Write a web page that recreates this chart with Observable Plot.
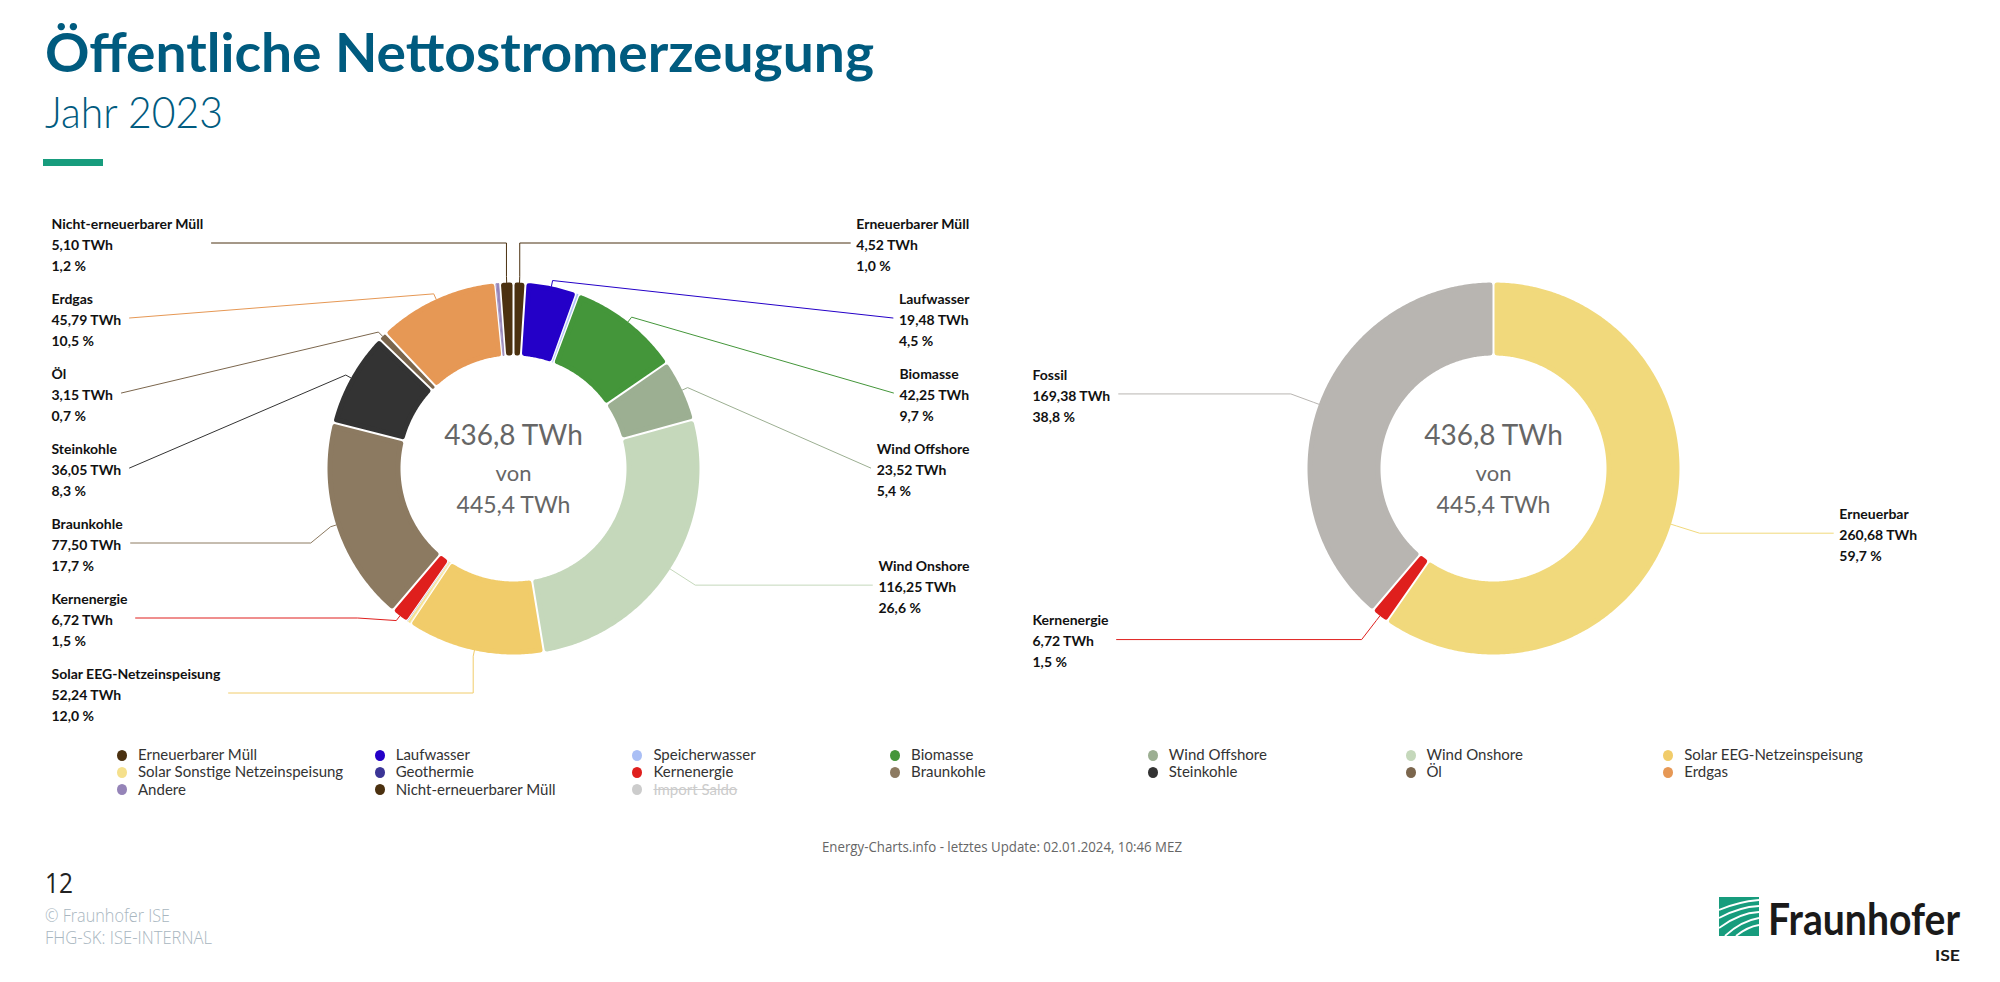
<!DOCTYPE html>
<html><head><meta charset="utf-8">
<script src="https://cdn.jsdelivr.net/npm/d3@7"></script>
<script src="https://cdn.jsdelivr.net/npm/@observablehq/plot@0.6"></script>
<style>
html,body{margin:0;padding:0;background:#fff;}
#page{position:relative;width:2000px;height:982px;overflow:hidden;}
.t{position:absolute;white-space:nowrap;line-height:1;transform-origin:left top;}
#chart{position:absolute;left:0;top:190px;}
.sym{position:absolute;width:10px;height:11px;border-radius:50%;}
</style></head>
<body><div id="page"></div>
<script>
// ---------------- data ----------------
const sources = ["Erneuerbarer Müll","Laufwasser","Speicherwasser","Biomasse","Wind Offshore","Wind Onshore","Solar EEG-Netzeinspeisung","Solar Sonstige Netzeinspeisung","Geothermie","Kernenergie","Braunkohle","Steinkohle","Öl","Erdgas","Andere","Nicht-erneuerbarer Müll"];
const sourceTWh = [4.52,19.48,0.95,42.25,23.52,116.25,52.24,1.30,0.17,6.72,77.50,36.05,3.15,45.79,1.79,5.10];
const groups = ["Erneuerbar","Kernenergie","Fossil"];
const groupTWh = [260.68,6.72,169.38];
const totalAllTWh = 445.4;
const legendExtra = ["Import Saldo"];
// ---------------- styles ----------------
const sourceColors = ["#4b3110","#2400c8","#aabff5","#44963a","#9caf92","#c5d8bb","#f1cc6a","#f5e08c","#3b3596","#df1f1d","#8c7a61","#333333","#7b664d","#e69855","#9584b8","#4b3110"];
const groupColors = ["#f1d97c","#df1f1d","#b8b5b1"];
const extraColors = ["#cccccc"];

const page = document.getElementById("page");
const fmt = (v, d) => v.toFixed(d).replace(".", ",");

// ---------------- layout constants ----------------
const layoutL = {cx: 513, cy: 468, ro: 186, ri: 113, labelLeft: 51, labelRight: 969};
const layoutR = {cx: 1493, cy: 468, ro: 186, ri: 113, labelLeft: 1032, labelRight: 1917};
const labelDist = 30, breakDist = 6, boxH = 75, boxTop = 205, boxBottom = 730;
const LF = {family: "Lato, 'Open Sans', sans-serif", size: 14, weight: 700, lh: 1.5};
const ctx = document.createElement("canvas").getContext("2d");
ctx.font = `${LF.weight} ${LF.size}px Lato`;

function distribute(items) {
  items.sort((a, b) => a.natural - b.natural);
  let gs = items.map(it => ({items: [it]}));
  const place = g => {
    const n = g.items.length;
    const mean = d3.mean(g.items, d => d.natural);
    g.top = Math.max(boxTop, Math.min(boxBottom - n * boxH, mean - n * boxH / 2));
  };
  let changed = true;
  while (changed) {
    changed = false;
    gs.forEach(place);
    for (let i = 1; i < gs.length; i++) {
      if (gs[i].top < gs[i - 1].top + gs[i - 1].items.length * boxH - 0.01) {
        gs[i - 1].items = gs[i - 1].items.concat(gs[i].items);
        gs.splice(i, 1);
        changed = true; break;
      }
    }
  }
  gs.forEach(g => g.items.forEach((it, j) => it.y = g.top + (j + 0.5) * boxH));
}

const slicePts = [], connPts = [], labels = [], centers = [];
function donut(names, values, colors, L, key) {
  const total = d3.sum(values);
  const arcs = d3.pie().sort(null).value(d => d)(values);
  const lab = [];
  arcs.forEach((a, i) => {
    const a0 = a.startAngle, a1 = a.endAngle, id = key + i;
    const w = (a1 - a0) * L.ri;
    const g = Math.min(1, w / 4);
    const k = Math.max(0, Math.min(2.5, (w - 2 * g) / 2 - 0.3));
    const rO = L.ro - k, rI = L.ri + k;
    let s0 = a0 + (g + k) / rO, e0 = a1 - (g + k) / rO;
    let s1 = a0 + (g + k) / rI, e1 = a1 - (g + k) / rI;
    const m = (a0 + a1) / 2;
    if (e0 < s0) s0 = e0 = m;
    if (e1 < s1) s1 = e1 = m;
    const n = Math.max(2, Math.ceil((e0 - s0) / 0.01));
    for (let j = 0; j <= n; j++) { const t = s0 + (e0 - s0) * j / n; slicePts.push({id, x: L.cx + rO * Math.sin(t), y: L.cy - rO * Math.cos(t), c: colors[i], sw: 2 * k}); }
    for (let j = n; j >= 0; j--) { const t = s1 + (e1 - s1) * j / n; slicePts.push({id, x: L.cx + rI * Math.sin(t), y: L.cy - rI * Math.cos(t), c: colors[i], sw: 2 * k}); }
    const pct = values[i] / total * 100;
    if (pct >= 0.5) {
      const lines = [names[i], fmt(values[i], 2) + " TWh", fmt(pct, 1) + " %"];
      const bw = Math.max(...lines.map(s => ctx.measureText(s).width));
      lab.push({id, m, color: colors[i], text: lines.join("\n"), bw,
        side: Math.sin(m) < 0 ? "left" : "right",
        natural: L.cy - (L.ro + labelDist) * Math.cos(m),
        touch: [L.cx + L.ro * Math.sin(m), L.cy - L.ro * Math.cos(m)],
        brk: [L.cx + (L.ro + breakDist) * Math.sin(m), L.cy - (L.ro + breakDist) * Math.cos(m)]});
    }
  });
  ["left", "right"].forEach(side => distribute(lab.filter(d => d.side === side)));
  const R = L.ro + labelDist;
  lab.forEach(d => {
    const left = d.side === "left";
    const lx = left ? L.labelLeft : L.labelRight - d.bw;
    labels.push({x: lx, y: d.y, text: d.text});
    const px = left ? lx + d.bw + 8 : lx - 6;
    const pts = [[px, d.y]];
    if (Math.abs(d.y - d.natural) < 30) {
      const dy = d.y - L.cy;
      const kx = Math.abs(dy) < R ? L.cx + (left ? -1 : 1) * Math.sqrt(R * R - dy * dy) : d.brk[0];
      pts.push([kx, d.y]);
    }
    pts.push(d.brk, d.touch);
    pts.forEach(p => connPts.push({id: d.id, x: p[0], y: p[1], c: d.color}));
  });
  centers.push({x: L.cx, y: L.cy - 32, text: fmt(total, 1) + " TWh", s: 28});
  centers.push({x: L.cx, y: L.cy + 5, text: "von", s: 22});
  centers.push({x: L.cx, y: L.cy + 37, text: fmt(totalAllTWh, 1) + " TWh", s: 23});
}
donut(sources, sourceTWh, sourceColors, layoutL, "s");
donut(groups, groupTWh, groupColors, layoutR, "g");

const chart = Plot.plot({
  width: 2000, height: 560, margin: 0,
  x: {domain: [0, 2000], range: [0, 2000], axis: null},
  y: {domain: [190, 750], range: [0, 560], axis: null},
  color: {type: "identity"},
  style: {background: "transparent"},
  marks: [
    Plot.line(slicePts, {x: "x", y: "y", z: "id", fill: "c", stroke: "c", strokeWidth: "sw", curve: "linear-closed", strokeLinejoin: "round"}),
    Plot.line(connPts, {x: "x", y: "y", z: "id", stroke: "c", strokeWidth: 1, curve: "linear", strokeLinejoin: "miter"}),
    Plot.text(labels, {x: "x", y: "y", text: "text", textAnchor: "start", lineAnchor: "middle", lineHeight: LF.lh, fontSize: LF.size, fontWeight: LF.weight, fontFamily: LF.family, fill: "#111"}),
    Plot.text(centers, {x: "x", y: "y", text: "text", fontSize: "s", fontFamily: "Lato, sans-serif", fontWeight: 400, fill: "#666", textAnchor: "middle", lineAnchor: "middle"})
  ]
});
chart.id = "chart";
page.appendChild(chart);

// ---------------- page texts ----------------
function addText(txt, o) {
  const el = document.createElement("div");
  el.className = "t";
  el.textContent = txt;
  Object.assign(el.style, {fontFamily: o.family, fontSize: o.size + "px", fontWeight: o.weight || 400, color: o.color, left: "0px", top: "0px"});
  if (o.deco) el.style.textDecoration = o.deco;
  page.appendChild(el);
  const probe = document.createElement("span");
  Object.assign(probe.style, {display: "inline-block", width: "0px", height: "0px", verticalAlign: "baseline"});
  el.appendChild(probe);
  const base = probe.getBoundingClientRect().top - el.getBoundingClientRect().top;
  probe.remove();
  let w = el.getBoundingClientRect().width, sc = 1;
  if (o.fit) { sc = o.fit / w; el.style.transform = `scaleX(${sc})`; w = o.fit; }
  let x = o.x;
  if (o.anchor === "middle") x = o.x - w / 2;
  if (o.anchor === "end") x = o.x - w;
  el.style.left = x + "px";
  el.style.top = (o.y - base) + "px";
  return el;
}
const OS = "'Open Sans', sans-serif";
const LA = "Lato, sans-serif";
addText("Öffentliche Nettostromerzeugung", {family: LA, size: 53, weight: 700, color: "#005b7f", x: 45, y: 72, fit: 829});
addText("Jahr 2023", {family: LA, size: 44, weight: 300, color: "#005b7f", x: 45, y: 128, fit: 178});
const bar = document.createElement("div");
Object.assign(bar.style, {position: "absolute", left: "43px", top: "159px", width: "60px", height: "7px", background: "#179c7d"});
page.appendChild(bar);

// legend
const legNames = sources.concat(legendExtra), legColors = sourceColors.concat(extraColors);
legNames.forEach((nm, i) => {
  const col = i % 7, row = Math.floor(i / 7);
  const cy = 755 + row * 17.3, tx = 138 + col * 257.7;
  const s = document.createElement("div");
  s.className = "sym";
  Object.assign(s.style, {left: (tx - 21) + "px", top: (cy - 5.5) + "px", background: legColors[i]});
  page.appendChild(s);
  const disabled = legendExtra.includes(nm);
  addText(nm, {family: LA, size: 15, weight: 400, color: disabled ? "#cccccc" : "#333", x: tx, y: cy + 5, deco: disabled ? "line-through" : null});
});

addText("Energy-Charts.info - letztes Update: 02.01.2024, 10:46 MEZ", {family: OS, size: 14, weight: 400, color: "#666", x: 1002, y: 852, fit: 360, anchor: "middle"});
addText("12", {family: OS, size: 28, weight: 400, color: "#222", x: 45, y: 893, fit: 28});
addText("© Fraunhofer ISE", {family: OS, size: 18, weight: 300, color: "#a8b6c0", x: 45, y: 922, fit: 125});
addText("FHG-SK: ISE-INTERNAL", {family: OS, size: 18, weight: 300, color: "#a8b6c0", x: 45, y: 944, fit: 167});
addText("Fraunhofer", {family: LA, size: 43, weight: 700, color: "#1a1a1a", x: 1768, y: 935, fit: 192});
addText("ISE", {family: LA, size: 16, weight: 700, color: "#1a1a1a", x: 1960, y: 961, fit: 25, anchor: "end"});
const logo = document.createElementNS("http://www.w3.org/2000/svg", "svg");
logo.setAttribute("width", 40); logo.setAttribute("height", 39);
Object.assign(logo.style, {position: "absolute", left: "1719px", top: "897px"});
logo.innerHTML = '<rect width="40" height="39" fill="#179c7d"/><g stroke="#fff" stroke-width="1.8" fill="none"><path d="M0 13 Q18 5 40 3"/><path d="M0 21 Q20 10 40 9"/><path d="M0 31 Q20 16 40 15"/><path d="M6 39 Q22 24 40 21"/><path d="M17 39 Q28 30 40 28"/></g>';
page.appendChild(logo);
</script>
</body></html>
